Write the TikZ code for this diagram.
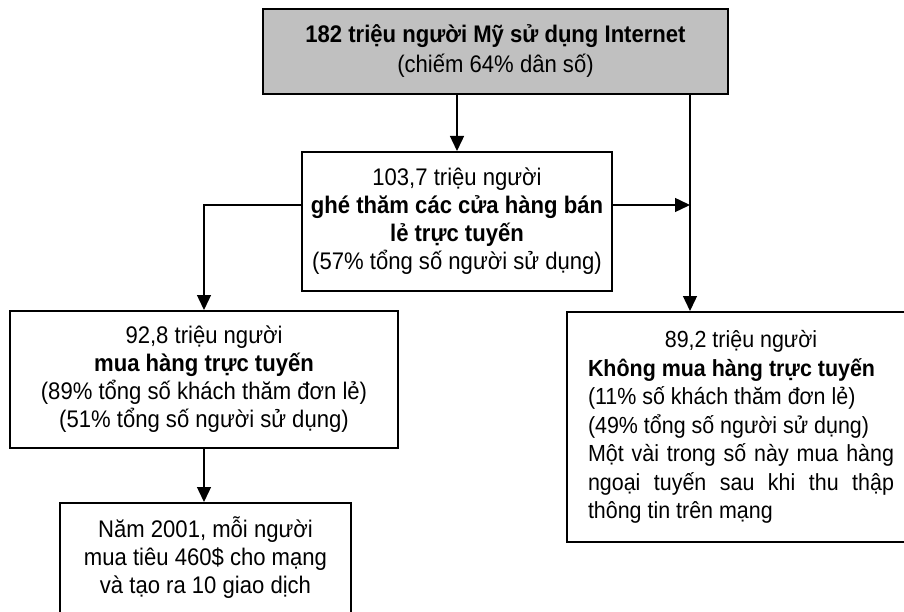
\documentclass[tikz,border=0pt]{standalone}
\usepackage{fontspec}
\setmainfont[FakeStretch=0.92]{Liberation Sans}
\usetikzlibrary{arrows.meta}
\definecolor{headgray}{HTML}{C0C0C0}
\begin{document}
\begin{tikzpicture}[x=1pt,y=-1pt,
  box/.style={draw, line width=2pt, rectangle, inner sep=0pt,
    font=\fontsize{24}{28}\selectfont, align=center},
  arr/.style={line width=1.4pt, -{Triangle[length=15pt,width=14pt]}}]
\clip (0,0) rectangle (904,612);

% boxes
\node[box, fill=headgray, minimum width=465pt, minimum height=85pt] (top) at (495.5,51.5)
  {\textbf{182 triệu người Mỹ sử dụng Internet}\\[2pt](chiếm 64\% dân số)};

\node[box, minimum width=310pt, minimum height=139pt] (mid) at (457,221.5)
  {103,7 triệu người\\\textbf{ghé thăm các cửa hàng bán}\\\textbf{lẻ trực tuyến}\\(57\% tổng số người sử dụng)};

\node[box, minimum width=388pt, minimum height=137pt] (lbox) at (204,379.5)
  {92,8 triệu người\\\textbf{mua hàng trực tuyến}\\(89\% tổng số khách thăm đơn lẻ)\\(51\% tổng số người sử dụng)};

\node[box, anchor=north, minimum width=291pt, minimum height=140pt] (bbox) at (205.5,502)
  {\parbox[c][112pt][t]{280pt}{\centering\strut Năm 2001, mỗi người\\mua tiêu 460\$ cho mạng\\và tạo ra 10 giao dịch}};

\node[box, anchor=north west, inner xsep=21pt, minimum height=230pt,
      font=\fontsize{23.3}{28.5}\selectfont] (rbox) at (566,311)
  {\parbox{306pt}{\centering 89,2 triệu người\par
   \raggedright\textbf{Không mua hàng trực tuyến}\\
   (11\% số khách thăm đơn lẻ)\\
   (49\% tổng số người sử dụng)\\
   \makebox[\linewidth][s]{Một vài trong số này mua hàng}\\
   \makebox[\linewidth][s]{ngoại tuyến sau khi thu thập}\\
   thông tin trên mạng}};

% connectors
\coordinate (split) at (690,205);
\draw[arr] (mid.north |- top.south) -- (mid.north);
\draw[arr] (split |- top.south) -- (split |- rbox.north);
\draw[arr] (split -| mid.east) -- (split);
\draw[arr] (split -| mid.west) -| (lbox.north);
\draw[arr] (lbox.south) -- (lbox.south |- bbox.north);
\end{tikzpicture}
\end{document}
